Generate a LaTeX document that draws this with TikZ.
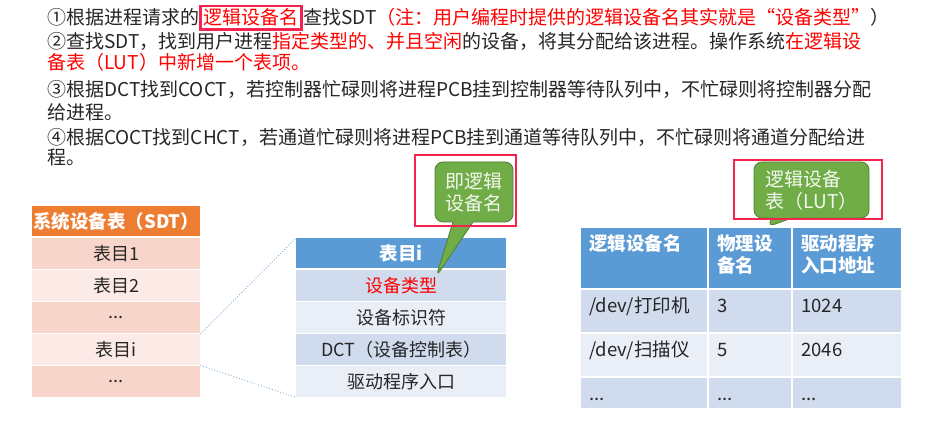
\documentclass[tikz,border=0pt]{standalone}
\usepackage{fontspec}
\setmainfont{Noto Sans CJK SC}
\usetikzlibrary{positioning,shapes.callouts}

\definecolor{markred}{HTML}{F5234F}
\definecolor{sdtorange}{HTML}{ED7D31}
\definecolor{sdtdark}{HTML}{F8D5CA}
\definecolor{sdtlight}{HTML}{FBEAE6}
\definecolor{tabblue}{HTML}{5B9BD5}
\definecolor{bluedark}{HTML}{D0DBEE}
\definecolor{bluelight}{HTML}{E9EEF7}
\definecolor{notegreen}{HTML}{70AD47}
\definecolor{noteedge}{HTML}{507E32}
\definecolor{inktext}{HTML}{262626}

\newcommand\tdots{...}

\tikzset{
  para/.style={anchor=base west, inner sep=0pt, text=inktext, font=\fontsize{19}{22}\selectfont},
  hilite/.style={draw=markred, line width=2.6pt},
  cellfont/.style={font=\fontsize{18}{21}\selectfont},
  sdtrow/.style={anchor=north west, inner sep=0pt, minimum width=168pt, minimum height=31pt, text=inktext, cellfont},
  entrow/.style={anchor=north west, inner sep=0pt, minimum width=210pt, minimum height=31pt, text=inktext, cellfont},
  headrow/.style={minimum height=30pt, text=white, font=\fontsize{18.5}{21}\selectfont\bfseries},
  lutcell/.style={anchor=north west, inner sep=0pt},
  luttext/.style={anchor=north west, inner sep=0pt, align=left, text=inktext, font=\fontsize{18.5}{22}\selectfont, execute at begin node=\strut},
  note/.style={rectangle callout, rounded corners=8pt, fill=notegreen, draw=noteedge, line width=0.8pt, callout pointer width=20pt, align=left, text=white!92!notegreen, font=\fontsize{19}{22}\selectfont, inner sep=0pt},
  zoomline/.style={draw=tabblue!80, dotted, line width=0.9pt}
}

\begin{document}
\begin{tikzpicture}[x=1pt,y=-1pt]
\useasboundingbox (0,0) rectangle (935,427);
\fill[white] (0,0) rectangle (935,427);

% steps
\node[para] (s1a) at (47,25) {①根据进程请求的};
\node[para, hilite, text=red, inner xsep=3pt, inner ysep=3pt] (s1b) at (s1a.base east) {逻辑设备名};
\node[para] (s1c) at (s1b.base east) {查找SDT{\color{red}（注：用户编程时提供的逻辑设备名其实就是“设备类型”}）};
\node[para] (s2) at (47,49) {②查找SDT，找到用户进程{\color{red}指定类型的、并且空闲}的设备，将其分配给该进程。操作系统{\color{red}在逻辑设}};
\node[para, text=red] (s2b) at (47,70) {备表（LUT）中新增一个表项。};
\node[para] (s3) at (47,97) {③根据DCT找到COCT，若控制器忙碌则将进程PCB挂到控制器等待队列中，不忙碌则将控制器分配};
\node[para] (s3b) at (47,120) {给进程。};
\node[para] (s4) at (47,145) {④根据COCT找到CHCT，若通道忙碌则将进程PCB挂到通道等待队列中，不忙碌则将通道分配给进};
\node[para] (s4b) at (47,165) {程。};

% system device table
\node[sdtrow, headrow, fill=sdtorange] (sdt0) at (32,206) {系统设备表（SDT）};
\foreach \k/\t/\c in {1/表目1/sdtdark, 2/表目2/sdtlight, 3/\tdots/sdtdark, 4/表目i/sdtlight, 5/\tdots/sdtdark}
  \node[sdtrow, fill=\c] (sdt\k) at (32,206+32*\k) {\t};

% entry i
\node[entrow, headrow, fill=tabblue] (ent0) at (296,238) {表目i};
\foreach \k/\t/\c in {1/{\color{red}设备类型}/bluedark, 2/设备标识符/bluelight, 3/DCT（设备控制表）/bluedark, 4/驱动程序入口/bluelight}
  \node[entrow, fill=\c] (ent\k) at (296,238+32*\k) {\t};

\draw[zoomline] (sdt4.north east) -- (ent0.north west);
\draw[zoomline] (sdt4.south east) -- (ent4.south west);

% logical unit table
\foreach \r/\y/\h/\c in {0/228/60/tabblue, 1/290/42/bluedark, 2/334/42/bluelight, 3/378/30/bluedark}
  \foreach \k/\x/\w in {1/581/126, 2/709/82, 3/793/108}
    \node[lutcell, minimum width=\w pt, minimum height=\h pt, fill=\c] (lut\r\k) at (\x,\y) {};
\foreach \k/\t in {1/逻辑设备名, 2/{物理设\\备名}, 3/{驱动程序\\入口地址}}
  \node[luttext, text=white, font=\fontsize{18.5}{22}\selectfont\bfseries, below right=6.5pt and 8pt of lut0\k.north west] (lh\k) {\t};
\foreach \r/\k/\t in {1/1/{/dev/打印机}, 1/2/3, 1/3/1024, 2/1/{/dev/扫描仪}, 2/2/5, 2/3/2046, 3/1/\tdots, 3/2/\tdots, 3/3/\tdots}
  \node[luttext, below right=6.5pt and 8pt of lut\r\k.north west] (lt\r\k) {\t};

% notes
\node[note, minimum width=78pt, minimum height=60pt, callout absolute pointer={(436,277)}] (note1) at (474,192) {即逻辑\\设备名};
\node[note, minimum width=115pt, minimum height=56pt, callout absolute pointer={(767,227)}] (note2) at (811.5,190) {逻辑设备\\表（LUT）};

\draw[hilite] (415,155) rectangle (516,226);
\draw[hilite] (734,160) rectangle (882,219);
\end{tikzpicture}
\end{document}
